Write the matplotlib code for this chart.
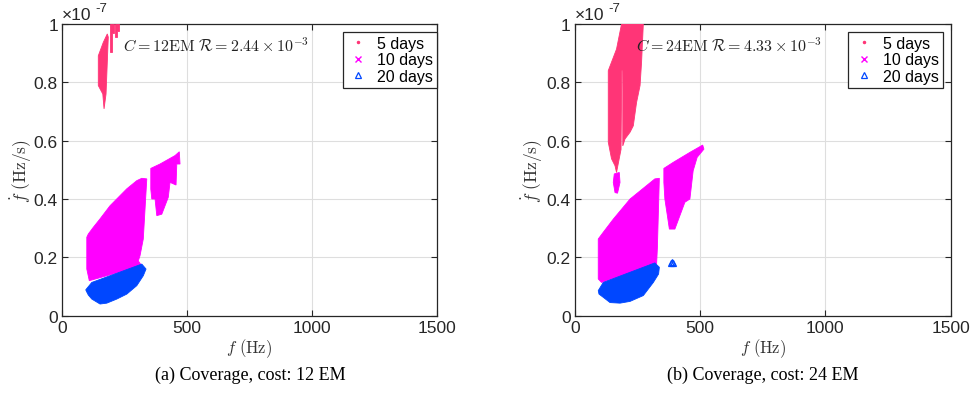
import matplotlib
matplotlib.use("Agg")
import matplotlib.pyplot as plt
from matplotlib.lines import Line2D
from matplotlib.ticker import FuncFormatter

plt.rcParams['mathtext.fontset'] = 'cm'
plt.rcParams['font.family'] = ['Liberation Sans', 'DejaVu Sans']

# ---------------- data (f in Hz, fdot in units of 1e-7 Hz/s) ----------------
# Panel (a): cost 12 EM
a_red1_f = [145, 165, 181, 185, 176, 168, 163, 145]
a_red1_y = [0.891, 0.937, 0.966, 0.955, 0.760, 0.709, 0.760, 0.789]
a_red2_f = [192, 206, 206, 200, 200, 192]
a_red2_y = [1.0, 1.0, 0.97, 0.97, 0.903, 0.903]
a_red3_f = [213, 229, 229, 221, 221, 213]
a_red3_y = [1.0, 1.0, 0.975, 0.975, 0.955, 0.955]
a_mag1_f = [99, 99, 109, 319, 305, 312, 325, 339, 319, 299, 259, 192, 152, 125, 105]
a_mag1_y = [0.269, 0.160, 0.120, 0.171, 0.188, 0.206, 0.263, 0.469, 0.471, 0.463, 0.435, 0.377, 0.332, 0.303, 0.280]
a_mag2_f = [355, 392, 452, 469, 472, 459, 456, 432, 425, 399, 379, 372, 359, 355]
a_mag2_y = [0.505, 0.520, 0.549, 0.562, 0.520, 0.520, 0.448, 0.457, 0.406, 0.348, 0.343, 0.400, 0.400, 0.434]
a_blue_f = [95, 119, 319, 336, 325, 299, 259, 219, 179, 152, 119, 105, 96]
a_blue_y = [0.089, 0.114, 0.177, 0.160, 0.137, 0.103, 0.074, 0.057, 0.043, 0.040, 0.057, 0.071, 0.086]

# Panel (b): cost 24 EM
b_red_f = [186, 273, 266, 260, 246, 233, 220, 200, 191, 191, 187, 184, 166, 160, 146, 133, 133, 166]
b_red_y = [1.0, 1.0, 0.869, 0.789, 0.731, 0.651, 0.629, 0.606, 0.582, 0.84, 0.84, 0.57, 0.491, 0.514, 0.538, 0.595, 0.84, 0.914]
b_mag0_f = [157, 177, 180, 170, 160, 153]
b_mag0_y = [0.486, 0.491, 0.457, 0.420, 0.422, 0.457]
b_mag1_f = [93, 93, 106, 326, 329, 337, 319, 286, 220, 153, 113]
b_mag1_y = [0.263, 0.126, 0.114, 0.177, 0.229, 0.471, 0.469, 0.446, 0.400, 0.331, 0.286]
b_mag2_f = [355, 393, 459, 510, 515, 488, 472, 459, 439, 419, 399, 377, 369, 359, 355]
b_mag2_y = [0.505, 0.526, 0.560, 0.585, 0.571, 0.543, 0.497, 0.400, 0.389, 0.343, 0.297, 0.297, 0.343, 0.400, 0.457]
b_blue_f = [93, 113, 319, 337, 334, 313, 273, 220, 180, 140, 113, 96]
b_blue_y = [0.086, 0.114, 0.181, 0.166, 0.143, 0.114, 0.069, 0.049, 0.043, 0.045, 0.063, 0.074]
b_tri_f = [385, 389, 393]
b_tri_y = [0.181, 0.185, 0.181]

series_labels = ['5 days', '10 days', '20 days']
costs = ['12', '24']
ratios = ['2.44', '4.33']
captions = ['(a) Coverage, cost: 12 EM', '(b) Coverage, cost: 24 EM']
xticks = [0, 500, 1000, 1500]
yticks = [0, 0.2, 0.4, 0.6, 0.8, 1]

RED = '#FF3577'
MAG = '#FF00FF'
BLUE = '#0047FF'
INK = '#262626'

fig = plt.figure(figsize=(9.74, 4.02), dpi=100)
axA = fig.add_axes([0.0637, 0.2122, 0.385, 0.7256])
axB = fig.add_axes([0.5903, 0.2122, 0.3857, 0.7256])

def style(ax, ylab_x):
    ax.set_xlim(0, 1500)
    ax.set_ylim(0, 1)
    ax.set_xticks(xticks)
    ax.set_yticks(yticks)
    ax.yaxis.set_major_formatter(FuncFormatter(lambda v, p: '%g' % v))
    ax.grid(True, color='#DEDEDE', lw=0.8)
    ax.set_axisbelow(True)
    ax.tick_params(direction='in', top=True, right=True, length=4, width=0.8,
                   labelsize=12.5, colors=INK, pad=3)
    for s in ax.spines.values():
        s.set_color(INK)
        s.set_linewidth(0.9)
    ax.set_xlabel(r'$f\ (\mathrm{Hz})$', fontsize=12, color='#333333')
    ax.xaxis.set_label_coords(0.5, -0.111)
    ax.xaxis.label.set_va('center')
    ax.set_ylabel(r'$\dot{f}\ (\mathrm{Hz/s})$', fontsize=12.5, color='#333333')
    ax.yaxis.set_label_coords(ylab_x, 0.5)
    ax.yaxis.label.set_va('center')
    ax.text(0.0, 1.008, '\u00d710', transform=ax.transAxes,
            fontsize=12.5, ha='left', va='bottom', color=INK)
    ax.text(0.088, 1.035, '-7', transform=ax.transAxes,
            fontsize=9.5, ha='left', va='bottom', color=INK)

def poly(ax, f, y, c):
    ax.fill(f, y, color=c, lw=0.6, ec=c, zorder=3)

# panel a
poly(axA, a_mag1_f, a_mag1_y, MAG)
poly(axA, a_mag2_f, a_mag2_y, MAG)
poly(axA, a_blue_f, a_blue_y, BLUE)
poly(axA, a_red1_f, a_red1_y, RED)
poly(axA, a_red2_f, a_red2_y, RED)
poly(axA, a_red3_f, a_red3_y, RED)

# panel b
poly(axB, b_mag1_f, b_mag1_y, MAG)
poly(axB, b_mag2_f, b_mag2_y, MAG)
poly(axB, b_mag0_f, b_mag0_y, MAG)
poly(axB, b_blue_f, b_blue_y, BLUE)
poly(axB, b_red_f, b_red_y, RED)
axB.plot(b_tri_f, b_tri_y, ls='none', marker='^', ms=5, mfc='none', mec=BLUE, mew=0.9, zorder=4)

for i, ax in enumerate([axA, axB]):
    style(ax, -0.107 if i == 0 else -0.112)
    ax.text(245, 0.93, r'$C = %s\mathrm{EM}\ \mathcal{R} = %s\times 10^{-3}$' % (costs[i], ratios[i]),
            fontsize=11.5, ha='left', va='center', zorder=5, color='#222222')
    handles = [Line2D([], [], ls='none', marker='.', ms=3, color=RED),
               Line2D([], [], ls='none', marker='x', ms=4.5, mew=1.0, color=MAG),
               Line2D([], [], ls='none', marker='^', ms=5, mfc='none', mec=BLUE, mew=0.9)]
    anchor = (1.0, 0.973) if i == 0 else (0.979, 0.973)
    leg = ax.legend(handles, series_labels, loc='upper right', bbox_to_anchor=anchor,
                    borderaxespad=0, fontsize=11.5, frameon=True, fancybox=False,
                    framealpha=1, edgecolor=INK, handlelength=1.4,
                    handletextpad=0.5, labelspacing=0.1, borderpad=0.25)
    leg.get_frame().set_linewidth(0.9)
    leg.set_zorder(6)

fig.text(0.2567, 0.067, captions[0], ha='center', va='center', fontsize=13,
         fontfamily='Liberation Serif')
fig.text(0.783, 0.067, captions[1], ha='center', va='center', fontsize=13,
         fontfamily='Liberation Serif')

fig.savefig('out.png', dpi=100)
